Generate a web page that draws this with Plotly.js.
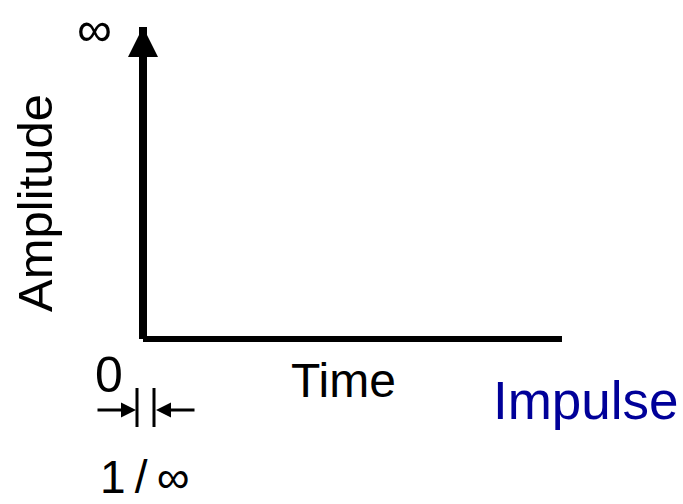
<!DOCTYPE html>
<html><head><meta charset="utf-8">
<script src="https://cdn.plot.ly/plotly-3.0.1.min.js"></script>
<style>html,body{margin:0;padding:0;background:#fff}</style>
</head><body>
<div id="chart" style="width:683px;height:504px"></div>
<script>
// Impulse: amplitude rises to "infinity" at time 0, with a width of 1/infinity
const impulseTime = [0, 0];
const impulseAmplitude = [0, 1];
const baselineTime = [0, 10];
const baselineAmplitude = [0, 0];
const xLabel = 'Time';
const yLabel = 'Amplitude';
const peakLabel = '\u221E';
const zeroLabel = '0';
const widthLabel = '1\u2009/\u2009\u221E';
const captionText = 'Impulse';

const W = 683, H = 504;
const fx = p => p / W;
const fy = p => 1 - p / H;
const FONT = 'Liberation Sans, Arial, sans-serif';

const traces = [
  {x: baselineTime, y: baselineAmplitude, mode: 'lines',
   line: {color: 'rgb(0,0,0)', width: 6}, hoverinfo: 'skip', cliponaxis: false},
  {x: impulseTime, y: impulseAmplitude, mode: 'lines',
   line: {color: 'rgb(0,0,0)', width: 8, backoff: 18},
   hoverinfo: 'skip', cliponaxis: false},
  {x: impulseTime.slice(1), y: impulseAmplitude.slice(1), mode: 'markers',
   marker: {symbol: 'arrow-up', size: 30, color: 'rgb(0,0,0)', opacity: 1, line: {width: 0}},
   hoverinfo: 'skip', cliponaxis: false}
];

const layout = {
  width: W, height: H,
  margin: {l: 0, r: 0, t: 0, b: 0},
  paper_bgcolor: '#fff', plot_bgcolor: '#fff',
  showlegend: false,
  xaxis: {range: [-3.4129, 12.888], visible: false, fixedrange: true},
  yaxis: {range: [-0.5288, 1.0865], visible: false, fixedrange: true},
  shapes: [
    {type: 'line', xref: 'paper', yref: 'paper', x0: fx(137), x1: fx(137), y0: fy(388), y1: fy(427), line: {color: '#000', width: 3}},
    {type: 'line', xref: 'paper', yref: 'paper', x0: fx(154), x1: fx(154), y0: fy(388), y1: fy(427), line: {color: '#000', width: 3}}
  ],
  annotations: [
    {text: peakLabel, xref: 'paper', yref: 'paper', x: fx(94), y: fy(28.5), showarrow: false, xanchor: 'center', yanchor: 'middle', font: {family: FONT, size: 49, color: '#000'}},
    {text: yLabel, xref: 'paper', yref: 'paper', x: fx(35), y: fy(203), textangle: -90, showarrow: false, xanchor: 'center', yanchor: 'middle', font: {family: FONT, size: 49, color: '#000'}},
    {text: xLabel, xref: 'paper', yref: 'paper', x: fx(343), y: fy(380), showarrow: false, xanchor: 'center', yanchor: 'middle', font: {family: FONT, size: 48, color: '#000'}},
    {text: captionText, xref: 'paper', yref: 'paper', x: fx(586), y: fy(400), showarrow: false, xanchor: 'center', yanchor: 'middle', font: {family: FONT, size: 53, color: '#000099'}},
    {text: zeroLabel, xref: 'paper', yref: 'paper', x: fx(109), y: fy(375), showarrow: false, xanchor: 'center', yanchor: 'middle', font: {family: FONT, size: 50, color: '#000'}},
    {text: widthLabel, xref: 'paper', yref: 'paper', x: fx(145), y: fy(477), showarrow: false, xanchor: 'center', yanchor: 'middle', font: {family: FONT, size: 46, color: '#000'}},
    {text: '', xref: 'paper', yref: 'paper', x: fx(136), y: fy(410), showarrow: true, ax: -40, ay: 0, arrowhead: 2, arrowwidth: 3, arrowsize: 1, arrowcolor: '#000', standoff: 0},
    {text: '', xref: 'paper', yref: 'paper', x: fx(156), y: fy(410), showarrow: true, ax: 40, ay: 0, arrowhead: 2, arrowwidth: 3, arrowsize: 1, arrowcolor: '#000', standoff: 0}
  ]
};

Plotly.newPlot('chart', traces, layout, {staticPlot: true, displayModeBar: false});
</script>
</body></html>
